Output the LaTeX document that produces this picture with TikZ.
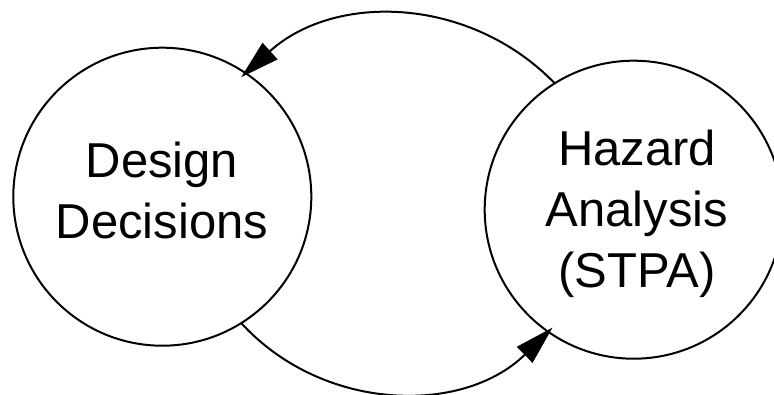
\documentclass[tikz,border=0pt]{standalone}
\usepackage{fontspec}
\setmainfont{Liberation Sans}
\usetikzlibrary{arrows.meta}
\begin{document}
\begin{tikzpicture}[x=1pt,y=-1pt,
  stage/.style={draw, circle, line width=2pt, minimum size=298pt, inner sep=0pt, outer sep=0pt},
  caption/.style={align=center, inner sep=0pt, font=\fontsize{49}{61}\selectfont},
  flow/.style={line width=2pt, -{Triangle[length=39pt,width=22pt]}, shorten >=-6pt}]
\useasboundingbox (0,0) rectangle (774,394);
% the two activities
\node[stage] (dd) at (162.3,196.7) {};
\node[stage] (hz) at (633.7,209.7) {};
\node[caption] (ddt) at (162,190) {Design\\Decisions};
\node[caption] (hzt) at (637,214) {Hazard\\Analysis\\(STPA)};
% feedback loop between them
\draw[flow] (hz.122) to[bend right=44] (dd.56);
\draw[flow] (dd.-58) to[bend right=46] (hz.-125);
\end{tikzpicture}
\end{document}
